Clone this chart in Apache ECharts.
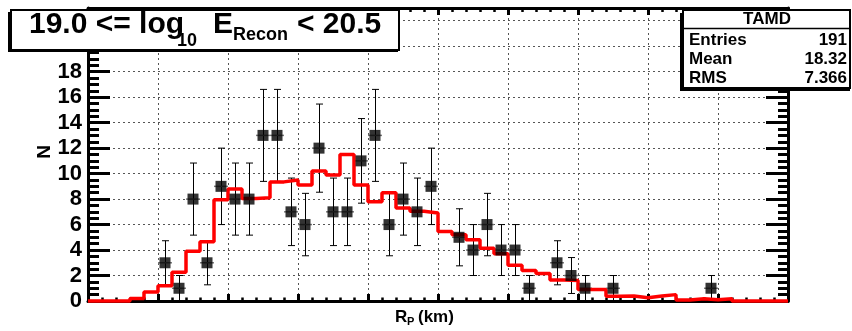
<!DOCTYPE html>
<html><head><meta charset="utf-8">
<script src="https://cdn.jsdelivr.net/npm/echarts@6/dist/echarts.min.js"></script>
<style>html,body{margin:0;padding:0;background:#fff}#c{width:852px;height:331px}</style>
</head><body><div id="c"></div>
<script>
// Data histogram (bin centres in km, counts, errors)
const dataX      = [5.5, 6.5, 7.5, 8.5, 9.5, 10.5, 11.5, 12.5, 13.5, 14.5, 15.5, 16.5, 17.5, 18.5, 19.5, 20.5, 21.5, 22.5, 23.5, 24.5, 26.5, 27.5, 28.5, 29.5, 30.5, 31.5, 33.5, 34.5, 35.5, 37.5, 44.5];
const dataCounts = [3, 1, 8, 3, 9, 8, 8, 13, 13, 7, 6, 12, 7, 7, 11, 13, 6, 8, 7, 9, 5, 4, 6, 4, 4, 1, 3, 2, 1, 1, 1];
const dataErrors = [1.73, 1.0, 2.83, 1.73, 3.0, 2.83, 2.83, 3.61, 3.61, 2.65, 2.45, 3.46, 2.65, 2.65, 3.32, 3.61, 2.45, 2.83, 2.65, 3.0, 2.24, 2.0, 2.45, 2.0, 2.0, 1.0, 1.73, 1.41, 1.0, 1.0, 1.0];
// MC histogram, one value per 1 km bin from 0 to 50 km (left bin edges)
const mcEdges  = [0,1,2,3,4,5,6,7,8,9,10,11,12,13,14,15,16,17,18,19,20,21,22,23,24,25,26,27,28,29,30,31,32,33,34,35,36,37,38,39,40,41,42,43,44,45,46,47,48,49,50];
const mcValues = [0, 0, 0, 0.2, 0.7, 1.2, 2.25, 3.9, 4.65, 7.95, 8.8, 8.05, 8.1, 9.35, 9.5, 9.1, 10.2, 9.9, 11.5, 9.1, 7.8, 8.5, 7.3, 7.05, 6.9, 5.45, 5.2, 4.8, 4.15, 3.7, 2.8, 2.4, 2.15, 1.65, 1.6, 0.9, 0.9, 0.37, 0.4, 0.25, 0.4, 0.5, 0.08, 0.18, 0.1, 0.18, 0, 0, 0, 0];
const statLabels = ['Entries', 'Mean', 'RMS'];
const statValues = ['191', '18.32', '7.366'];
const histName = 'TAMD';
const xTitle = 'R';
const xTitleSub = 'P';
const xTitleUnit = '(km)';
const yTitle = 'N';

const FONT = '"Liberation Sans", Arial, Helvetica, sans-serif';

const errData = dataX.map((x, i) => [x, dataCounts[i], dataErrors[i]]);
const ptData = dataX.map((x, i) => [x, dataCounts[i]]);
const mcData = mcEdges.map((e, i) => [e, mcValues[Math.min(i, mcValues.length - 1)]]);

const chart = echarts.init(document.getElementById('c'), null, {renderer: 'canvas'});
const gridLine = {show: true, lineStyle: {color: '#555', width: 1, type: [2, 3]}};
function txt(x, y, text, size, align, rot) {
  return {type: 'text', z: 102, x: x, y: y, rotation: rot || 0,
    style: {text: text, font: 'bold ' + size + 'px ' + FONT, fill: '#000', align: align || 'left', verticalAlign: 'middle'}};
}
const option = {
  animation: false,
  backgroundColor: '#fff',
  grid: {left: 88, right: 64, top: 8, bottom: 30, containLabel: false},
  xAxis: [{
    type: 'value', min: 0, max: 50, interval: 5, position: 'bottom',
    axisLine: {show: true, onZero: false, lineStyle: {color: '#000', width: 3}},
    axisTick: {show: true, inside: true, length: 7, lineStyle: {color: '#000', width: 3}},
    minorTick: {show: true, splitNumber: 5, length: 3.5, lineStyle: {color: '#000', width: 2.5}},
    axisLabel: {show: false},
    splitLine: gridLine
  }, {
    type: 'value', min: 0, max: 50, interval: 5, position: 'top',
    axisLine: {show: true, onZero: false, lineStyle: {color: '#000', width: 3}},
    axisTick: {show: true, inside: true, length: 7, lineStyle: {color: '#000', width: 3}},
    minorTick: {show: true, splitNumber: 5, length: 4, lineStyle: {color: '#000', width: 2.5}},
    axisLabel: {show: false},
    splitLine: {show: false}
  }],
  yAxis: [{
    type: 'value', min: 0, max: 23, interval: 2, position: 'left',
    axisLine: {show: true, onZero: false, lineStyle: {color: '#000', width: 3}},
    axisTick: {show: true, inside: true, length: 22, lineStyle: {color: '#000', width: 3}},
    minorTick: {show: true, splitNumber: 4, length: 11, lineStyle: {color: '#000', width: 3}},
    axisLabel: {show: true, margin: 6, fontFamily: FONT, fontWeight: 'bold', fontSize: 22, color: '#000',
      formatter: v => (v <= 18 ? String(v) : '')},
    splitLine: gridLine
  }, {
    type: 'value', min: 0, max: 23, interval: 2, position: 'right',
    axisLine: {show: true, onZero: false, lineStyle: {color: '#000', width: 3}},
    axisTick: {show: true, inside: true, length: 22, lineStyle: {color: '#000', width: 3}},
    minorTick: {show: true, splitNumber: 4, length: 10, lineStyle: {color: '#000', width: 3}},
    axisLabel: {show: false},
    splitLine: {show: false}
  }],
  series: [{
    type: 'custom', z: 2, xAxisIndex: 0, yAxisIndex: 0,
    data: errData,
    renderItem: function (params, api) {
      const x = api.value(0), y = api.value(1), e = api.value(2);
      const c = api.coord([x, y]);
      const t = api.coord([x, y + e]);
      const b = api.coord([x, y - e]);
      const l = api.coord([x - 0.5, y]);
      const r = api.coord([x + 0.5, y]);
      const cx = Math.round(c[0]) + 0.5;
      const st = {stroke: '#000', lineWidth: 1};
      return {type: 'group', children: [
        {type: 'line', shape: {x1: cx, y1: t[1], x2: cx, y2: b[1]}, style: st},
        {type: 'line', shape: {x1: cx - 3.5, y1: t[1], x2: cx + 3.5, y2: t[1]}, style: st},
        {type: 'line', shape: {x1: cx - 3.5, y1: b[1], x2: cx + 3.5, y2: b[1]}, style: st},
        {type: 'line', shape: {x1: l[0], y1: c[1], x2: r[0], y2: c[1]}, style: {stroke: '#777', lineWidth: 1.5}}
      ]};
    }
  }, {
    type: 'line', z: 3, step: 'end', data: mcData, showSymbol: false, symbol: 'none', clip: false,
    lineStyle: {color: '#ff0000', width: 3.5}
  }, {
    type: 'scatter', z: 4, data: ptData, symbol: 'rect', symbolSize: 11,
    itemStyle: {color: '#000'}
  }],
  graphic: [
    // title box
    {type: 'rect', z: 100, shape: {x: 8, y: 12, width: 390, height: 40}, style: {fill: '#000'}},
    {type: 'rect', z: 101, shape: {x: 11, y: 10, width: 388, height: 40}, style: {fill: '#fff', stroke: '#000', lineWidth: 2}},
    txt(29, 25, '19.0 <= log', 30),
    txt(177, 41, '10', 18),
    txt(213, 25, 'E', 30),
    txt(233, 35, 'Recon', 18),
    txt(297, 25, '< 20.5', 30),
    // stats box
    {type: 'rect', z: 100, shape: {x: 680, y: 13, width: 170, height: 78}, style: {fill: '#000'}},
    {type: 'rect', z: 101, shape: {x: 683, y: 10, width: 167, height: 78}, style: {fill: '#fff', stroke: '#000', lineWidth: 2}},
    {type: 'line', z: 102, shape: {x1: 683, y1: 28.5, x2: 850, y2: 28.5}, style: {stroke: '#000', lineWidth: 1.5}},
    txt(767, 19, histName, 17, 'center'),
    txt(689, 40, statLabels[0], 17), txt(847, 40, statValues[0], 17, 'right'),
    txt(689, 59, statLabels[1], 17), txt(847, 59, statValues[1], 17, 'right'),
    txt(689, 78, statLabels[2], 17), txt(847, 78, statValues[2], 17, 'right'),
    // axis titles
    txt(395, 317, xTitle, 17),
    txt(407, 322, xTitleSub, 11),
    txt(418, 317, xTitleUnit, 17),
    txt(45, 152, yTitle, 19, 'center', Math.PI / 2)
  ]
};
chart.setOption(option);
</script>
</body></html>
